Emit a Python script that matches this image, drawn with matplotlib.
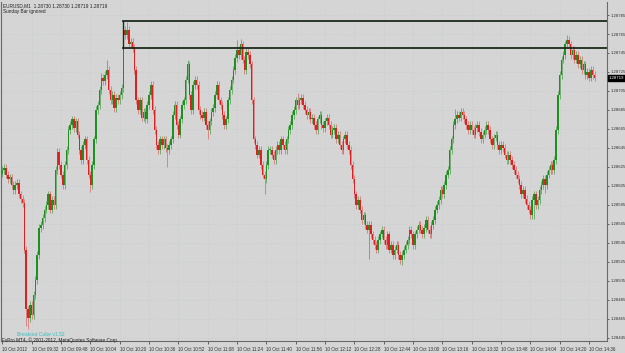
import matplotlib
matplotlib.use("Agg")
import matplotlib.pyplot as plt
from matplotlib.patches import Rectangle

BASE = 1.28
PT = 0.00001

# closes in points above 1.28000 (one value per M1 bar, 10 Oct 2012 09:16 -> 14:39)
close_pts = [
    622, 624, 617, 612, 614, 606, 601, 606, 608, 596, 591, 587,
    538, 475, 466, 480, 469, 490, 506, 532, 561, 564, 571, 580, 585, 596, 580, 590, 585,
    622, 641, 627, 617, 606, 627, 643, 664, 669, 675, 666, 673, 659, 643, 632, 648, 654,
    632, 617, 606, 627, 654, 685, 690, 706, 719, 715, 722, 727, 706, 695, 701, 687, 698,
    695, 701, 708, 769, 764, 769, 754, 757, 750, 727, 695, 685, 695, 677, 683, 675, 690,
    701, 711, 685, 664, 648, 643, 654, 648, 654, 645, 643, 648, 654, 680, 690, 669, 659,
    675, 690, 695, 717, 733, 701, 685, 711, 717, 711, 685, 680, 677, 683, 669, 664, 673,
    683, 687, 701, 711, 695, 690, 680, 669, 675, 695, 706, 717, 727, 740, 748, 743, 754,
    738, 727, 746, 743, 733, 695, 654, 648, 638, 643, 627, 617, 612, 627, 643, 643,
    638, 632, 643, 648, 643, 654, 648, 643, 654,
    664, 669, 680, 685, 695, 690, 695, 698, 690, 685,
    680, 683, 675, 677, 669, 664, 675, 680, 669, 666,
    673, 677, 669, 659, 664, 666, 654, 659, 648, 643,
    654, 659, 648, 643, 627, 612, 596, 585, 590, 580,
    569, 574, 564, 559, 564, 554, 548, 543, 538, 548,
    554, 559, 548, 543, 554, 538, 543, 532, 538, 543,
    532, 527, 532, 538, 543, 548, 559, 554, 543, 554,
    559, 564, 559, 554, 561, 569, 559, 554, 564, 569,
    580, 585, 590, 601, 596, 606, 617, 622, 643, 654,
    669, 675, 680, 677, 683, 680, 675, 669, 664, 669,
    664, 659, 666, 669, 662, 654, 659, 664, 669, 664,
    654, 648, 656, 659, 648, 643, 648, 645, 638, 632,
    638, 632, 627, 622, 617, 612, 606, 596, 601, 591,
    585, 580, 574, 590, 596, 585, 590, 601, 606, 612,
    606, 617, 622, 627, 622, 632, 664, 701, 722, 738,
    743, 754, 759, 754, 743, 748, 738, 743, 733, 738,
    727, 733, 722, 725, 719, 727, 722, 719,
]
first_open_pts = 618
# notable wick extremes (bar index -> points)
high_pts = {66: 779, 68: 778, 57: 738, 128: 759, 130: 760, 308: 764, 101: 738, 54: 724,
            161: 703, 247: 686}
low_pts = {14: 454, 13: 458, 143: 596, 112: 654, 90: 625, 48: 599, 296: 598, 218: 522,
           200: 528, 290: 570}

rect_top_pts = 779
rect_bot_pts = 750
rect_start_bar = 66

header_lines = ["EURUSD,M1  1.28730 1.28730 1.28719 1.28719", "Sunday Bar ignored"]
x_tick_labels = ["10 Oct 2012", "10 Oct 09:32", "10 Oct 09:48", "10 Oct 10:04", "10 Oct 10:20",
                 "10 Oct 10:36", "10 Oct 10:52", "10 Oct 11:08", "10 Oct 11:24", "10 Oct 11:40",
                 "10 Oct 11:56", "10 Oct 12:12", "10 Oct 12:28", "10 Oct 12:44", "10 Oct 13:00",
                 "10 Oct 13:16", "10 Oct 13:32", "10 Oct 13:48", "10 Oct 14:04", "10 Oct 14:20",
                 "10 Oct 14:36"]
y_tick_pts = list(range(785, 440, -20))
last_price = 1.28719

n = len(close_pts)
opens = [first_open_pts] + close_pts[:-1]
closes = close_pts
highs, lows = [], []
for i in range(n):
    hi = max(opens[i], closes[i]) + 4
    lo = min(opens[i], closes[i]) - 4
    hi = max(hi, high_pts.get(i, hi))
    lo = min(lo, low_pts.get(i, lo))
    highs.append(hi)
    lows.append(lo)

bg = "#d5d5d5"
fig = plt.figure(figsize=(6.25, 3.53), dpi=100, facecolor=bg)
ax = fig.add_axes([0.002, 12 / 353, 0.9712 - 0.002, 1 - 12 / 353 - 2 / 353])
ax.set_facecolor(bg)

xs = list(range(n))
p = lambda v: BASE + v * PT
# grid
for k in range(len(x_tick_labels)):
    ax.axvline(k * 16, color="#bccaca", lw=0.5, ls=(0, (1, 3)), zorder=0)
for v in y_tick_pts:
    ax.axhline(p(v), color="#bccaca", lw=0.5, ls=(0, (1, 3)), zorder=0)

for i in range(n):
    up = closes[i] >= opens[i]
    body_c = "#1f8f1f" if up else "#e02020"
    wick_c = "#6fae6f" if up else "#d98484"
    ax.vlines(xs[i], p(lows[i]), p(highs[i]), color=wick_c, lw=0.7, zorder=2)
    b0 = p(min(opens[i], closes[i]))
    h = max(abs(closes[i] - opens[i]), 0.8) * PT
    ax.add_patch(Rectangle((xs[i] - 0.4, b0), 0.8, h, facecolor=body_c, edgecolor="none", zorder=3))

xmax = 329.8
ax.set_xlim(-0.6, xmax)
ax.set_ylim(p(441.7), p(798.7))

# breakout rectangle
ax.plot([rect_start_bar, xmax], [p(rect_top_pts)] * 2, color="#1c2a1c", lw=1.3, zorder=4)
ax.plot([rect_start_bar, xmax], [p(rect_bot_pts)] * 2, color="#1c2a1c", lw=1.3, zorder=4)
ax.plot([rect_start_bar, rect_start_bar], [p(rect_bot_pts), p(rect_top_pts)], color="#1c2a1c", lw=1.0, zorder=4)

ax.spines["top"].set_visible(False)
for s in ["left", "right", "bottom"]:
    ax.spines[s].set_color("#6a6a6a")
    ax.spines[s].set_linewidth(0.8)

ax.yaxis.tick_right()
ax.set_yticks([p(v) for v in y_tick_pts])
ax.set_yticklabels([f"{p(v):.5f}" for v in y_tick_pts], fontsize=3.1, family="Liberation Sans", color="#202020")
ax.tick_params(axis="y", length=1.5, width=0.5, pad=0.8, colors="#303030")
ax.set_xticks([k * 16 for k in range(len(x_tick_labels))])
ax.set_xticklabels(x_tick_labels, fontsize=3.3, family="Liberation Sans", color="#202020", ha="left")
ax.tick_params(axis="x", length=2.5, width=0.5, pad=1.5, colors="#303030")

# current price tag
ax.text(1.003, last_price, f"{last_price:.5f}",
        transform=ax.get_yaxis_transform(), fontsize=3.1, family="Liberation Sans", color="white",
        va="center", ha="left", bbox=dict(boxstyle="square,pad=0.2", fc="black", ec="black"), zorder=6)

fig.text(3 / 625, 1 - 3 / 353, header_lines[0], fontsize=3.4, family="Liberation Sans", color="#202020", va="top")
fig.text(3 / 625, 1 - 9 / 353, header_lines[1], fontsize=3.4, family="Liberation Sans", color="#202020", va="top")
fig.text(17 / 625, 1 - 337 / 353, "Breakout Cube v1.52", fontsize=3.6, family="Liberation Sans", color="#35c0c0", va="bottom")
fig.text(2 / 625, 1 - 343 / 353, "FxPro MT4, \u00a9 2001-2012, MetaQuotes Software Corp.", fontsize=3.4,
         family="Liberation Sans", color="#202020", va="bottom")

fig.savefig("out.png", dpi=100, facecolor=bg)
